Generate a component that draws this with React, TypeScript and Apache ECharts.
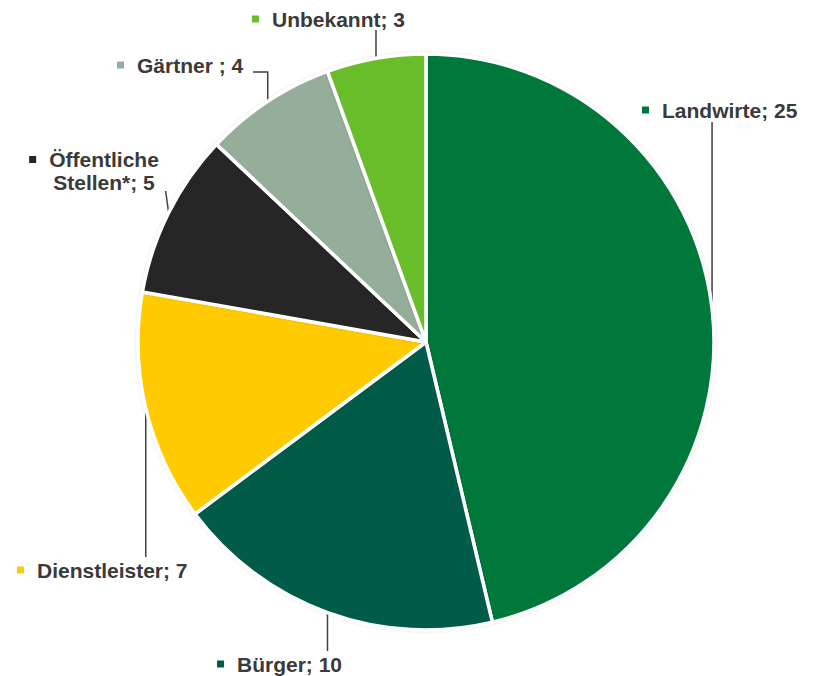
import React, { useEffect, useRef } from 'react';
import * as echarts from 'echarts';

const categories = ['Landwirte', 'Bürger', 'Dienstleister', 'Öffentliche\nStellen*', 'Gärtner ', 'Unbekannt'];
const values = [25, 10, 7, 5, 4, 3];
const colors = ['#00773a', '#035c48', '#ffcb00', '#262626', '#95ad9b', '#6bbd2a'];

const CX = 426;
const CY = 342;
const R = 288;

type Pt = number[];
// label block placement and leader line (from the slice's outer edge point e)
const labelSpots: { x: number; y: number; align: string; line: (e: Pt) => Pt[] }[] = [
  { x: 642, y: 110, align: 'left', line: (e) => [e, [e[0], 122]] },
  { x: 217, y: 664, align: 'left', line: (e) => [e, [e[0], 651]] },
  { x: 17, y: 570, align: 'left', line: (e) => [e, [e[0], 557]] },
  { x: 104, y: 171, align: 'center', line: (e) => [e, [e[0] - 3, 191]] },
  { x: 117, y: 65, align: 'left', line: (e) => [e, [e[0], 72], [253, 72]] },
  { x: 252, y: 19, align: 'left', line: (e) => [e, [e[0], 30]] },
];

function edgePoint(i: number): Pt {
  const total = values.reduce((a, b) => a + b, 0);
  let cum = 0;
  for (let k = 0; k < i; k++) cum += values[k];
  const mid = ((90 - ((cum + values[i] / 2) / total) * 360) * Math.PI) / 180;
  return [CX + R * Math.cos(mid), CY - R * Math.sin(mid)];
}

export default function App() {
  const ref = useRef<HTMLDivElement>(null);
  useEffect(() => {
    if (!ref.current) return;
    const chart = echarts.init(ref.current, undefined, { renderer: 'svg' });
    const rich: any = {
      s: { width: 13, height: 7, align: 'center', verticalAlign: 'middle' },
      s2: { width: 20, height: 7, align: 'center', verticalAlign: 'middle' },
      t: {
        fontFamily: '"Liberation Sans", Arial, sans-serif',
        fontWeight: 'bold',
        fontSize: 21,
        lineHeight: 23,
        color: '#3a3a3a',
        align: 'center',
        verticalAlign: 'middle',
      },
    };
    colors.forEach((c, i) => {
      rich['m' + i] = {
        width: 7,
        height: 7,
        backgroundColor: c,
        align: 'center',
        verticalAlign: 'middle',
      };
    });
    chart.setOption({
      animation: false,
      backgroundColor: '#ffffff',
      series: [
        {
          type: 'pie',
          center: [CX, CY],
          radius: R,
          startAngle: 90,
          clockwise: true,
          avoidLabelOverlap: false,
          itemStyle: {
            borderColor: '#ffffff',
            borderWidth: 3.5,
            shadowBlur: 3,
            shadowColor: 'rgba(0,0,0,0.12)',
          },
          emphasis: { disabled: true },
          label: {
            show: true,
            position: 'outside',
            formatter: (p: any) => {
              const lines = String(p.name).split('\n');
              if (lines.length > 1) {
                return (
                  `{m${p.dataIndex}|}{s|}{t|${lines[0]}}{s2|}\n` +
                  `{t|${lines.slice(1).join(' ')}; ${p.value}}`
                );
              }
              return `{m${p.dataIndex}|}{s|}{t|${lines[0]}; ${p.value}}`;
            },
            rich,
          },
          labelLine: {
            show: true,
            lineStyle: { color: '#404040', width: 1.5 },
          },
          labelLayout: (params: any) => {
            const i = params.dataIndex;
            const spot = labelSpots[i];
            const e =
              params.labelLinePoints && params.labelLinePoints[0]
                ? [params.labelLinePoints[0][0], params.labelLinePoints[0][1]]
                : edgePoint(i);
            return {
              x: spot.x,
              y: spot.y,
              align: spot.align,
              verticalAlign: 'middle',
              hideOverlap: false,
              moveOverlap: null,
              labelLinePoints: spot.line(e),
            };
          },
          data: categories.map((name, i) => ({
            name,
            value: values[i],
            itemStyle: { color: colors[i] },
          })),
        },
      ],
    });
    return () => chart.dispose();
  }, []);
  return (
    <div
      ref={ref}
      style={{ position: 'absolute', left: 0, top: 0, width: 815, height: 676 }}
    />
  );
}
